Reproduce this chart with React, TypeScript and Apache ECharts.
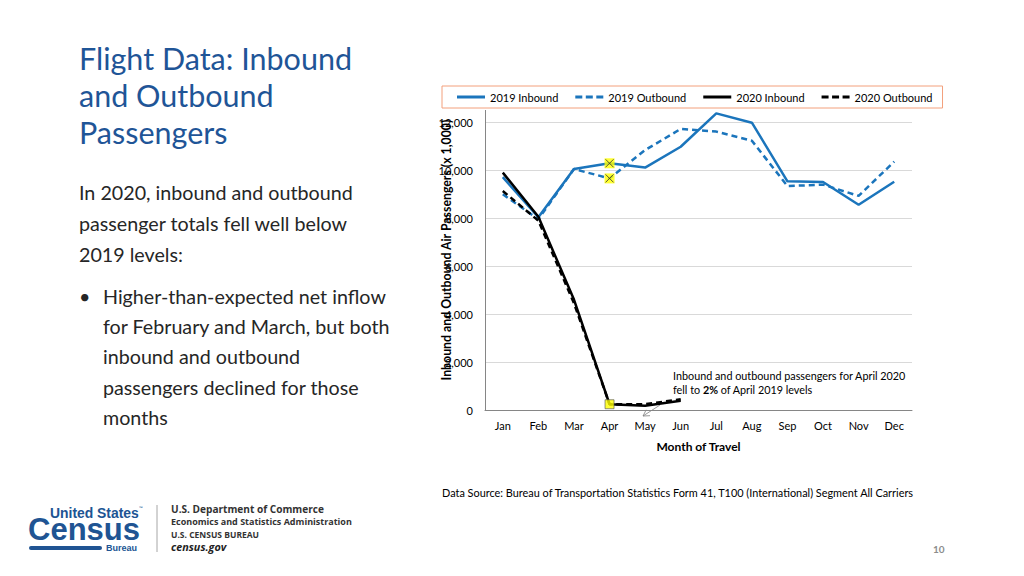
import React, { useEffect, useRef } from "react";
import * as echarts from "echarts";

const months = ["Jan", "Feb", "Mar", "Apr", "May", "Jun", "Jul", "Aug", "Sep", "Oct", "Nov", "Dec"];
const inbound2019 = [9700, 8030, 10040, 10280, 10100, 10970, 12360, 11970, 9530, 9500, 8550, 9510];
const outbound2019 = [8990, 7950, 10040, 9650, 10830, 11710, 11600, 11220, 9330, 9390, 8920, 10350];
const inbound2020 = [9890, 8050, 4600, 240, 180, 390];
const outbound2020 = [9125, 7890, 4450, 240, 240, 445];
const seriesNames = ["2019 Inbound", "2019 Outbound", "2020 Inbound", "2020 Outbound"];
const yTitle = "Inbound and Outbound Air Passengers (x 1,000)";

const FONT = "Lato, 'Open Sans', sans-serif";
const LOGOFONT = "'Liberation Sans Narrow', 'Liberation Sans', sans-serif";
const BLUE = "#1B75BC";
const CENSUS = "#205493";

const SOLID_ICON = "path://M0,0 L28,0 L28,3 L0,3 Z";
const DASH_ICON = "path://M0,0 L7,0 L7,3 L0,3 Z M10.5,0 L17.5,0 L17.5,3 L10.5,3 Z M21,0 L28,0 L28,3 L21,3 Z";

export default function App() {
  const ref = useRef<HTMLDivElement>(null);
  useEffect(() => {
    if (!ref.current) return;
    const chart = echarts.init(ref.current, null, { renderer: "svg" });
    const xPath = "path://M0,0 L10,10 M10,0 L0,10";
    chart.setOption({
      animation: false,
      backgroundColor: "#fff",
      textStyle: { fontFamily: FONT },
      grid: { left: 485, right: 112, top: 122, bottom: 166 },
      legend: {
        data: [
          { name: seriesNames[0], icon: SOLID_ICON },
          { name: seriesNames[1], icon: DASH_ICON },
          { name: seriesNames[2], icon: SOLID_ICON },
          { name: seriesNames[3], icon: DASH_ICON },
        ],
        left: 442,
        top: 86,
        padding: [5, 10, 5, 15],
        borderColor: "#F3A07C",
        borderWidth: 1,
        itemWidth: 28,
        itemHeight: 3,
        itemGap: 17,
        textStyle: { fontSize: 11, color: "#000", fontFamily: FONT, lineHeight: 12 },
      },
      xAxis: {
        type: "category",
        data: months,
        boundaryGap: true,
        axisLine: { lineStyle: { color: "#868686", width: 1 } },
        axisTick: { show: false },
        axisLabel: { fontSize: 11, color: "#000", margin: 10, fontFamily: FONT },
        name: "Month of Travel",
        nameLocation: "middle",
        nameGap: 30,
        nameTextStyle: { fontSize: 12, fontWeight: "bold", color: "#000", fontFamily: FONT },
      },
      yAxis: {
        type: "value",
        min: 0,
        max: 12000,
        interval: 2000,
        axisLine: { show: true, lineStyle: { color: "#868686", width: 1 } },
        axisTick: { show: false },
        splitLine: { lineStyle: { color: "#D9D9D9", width: 1 } },
        axisLabel: {
          fontSize: 11,
          color: "#000",
          margin: 12,
          fontFamily: FONT,
          formatter: (v: number) => v.toLocaleString("en-US"),
        },
      },
      series: [
        {
          name: seriesNames[0],
          type: "line",
          data: inbound2019,
          symbol: "none",
          clip: false,
          itemStyle: { color: BLUE },
          lineStyle: { color: BLUE, width: 2.5 },
          z: 3,
        },
        {
          name: seriesNames[1],
          type: "line",
          data: outbound2019,
          symbol: "none",
          clip: false,
          itemStyle: { color: BLUE },
          lineStyle: { color: BLUE, width: 2.5, type: [6, 4] },
          z: 3,
        },
        {
          name: seriesNames[2],
          type: "line",
          data: inbound2020,
          symbol: "none",
          clip: false,
          itemStyle: { color: "#000" },
          lineStyle: { color: "#000", width: 2.5 },
          z: 4,
        },
        {
          name: seriesNames[3],
          type: "line",
          data: outbound2020,
          symbol: "none",
          clip: false,
          itemStyle: { color: "#000" },
          lineStyle: { color: "#000", width: 2.5, type: [6, 4] },
          z: 4,
        },
        {
          name: "marker2020",
          type: "scatter",
          data: [[3, inbound2020[3]]],
          symbol: "rect",
          symbolSize: 9,
          itemStyle: { color: "#FFFF00", borderColor: "#555", borderWidth: 0.8 },
          z: 6,
        },
        {
          name: "marker2019",
          type: "scatter",
          data: [[3, inbound2019[3]], [3, outbound2019[3]]],
          symbol: "rect",
          symbolSize: 10,
          itemStyle: { color: "#FFFF00", borderWidth: 0 },
          z: 6,
        },
        {
          name: "marker2019x",
          type: "scatter",
          data: [[3, inbound2019[3]], [3, outbound2019[3]]],
          symbol: xPath,
          symbolSize: 8,
          itemStyle: { color: "none", borderColor: "#333", borderWidth: 1 },
          z: 7,
        },
      ],
      graphic: [
        { type: "line", shape: { x1: 485.5, y1: 110, x2: 485.5, y2: 122 }, style: { stroke: "#868686", lineWidth: 1 } },
        {
          type: "text",
          x: 446,
          y: 250,
          rotation: Math.PI / 2,
          z: 10,
          style: {
            text: yTitle,
            fontSize: 12.3,
            fontWeight: "bold",
            fill: "#000",
            fontFamily: FONT,
            align: "center",
            verticalAlign: "middle",
          },
        },
        {
          type: "text",
          left: 79,
          top: 39,
          style: {
            text: "Flight Data: Inbound\nand Outbound\nPassengers",
            fontSize: 30.5,
            lineHeight: 37,
            fill: "#1F5597",
            fontFamily: FONT,
          },
        },
        {
          type: "text",
          left: 79,
          top: 177,
          style: {
            text: "In 2020, inbound and outbound\npassenger totals fell well below\n2019 levels:",
            fontSize: 19.7,
            lineHeight: 31,
            fill: "#262626",
            fontFamily: FONT,
          },
        },
        {
          type: "text",
          left: 79,
          top: 281,
          style: { text: "•", fontSize: 19.7, lineHeight: 30.3, fill: "#262626", fontFamily: FONT },
        },
        {
          type: "text",
          left: 103,
          top: 281,
          style: {
            text: "Higher-than-expected net inflow\nfor February and March, but both\ninbound and outbound\npassengers declined for those\nmonths",
            fontSize: 19.7,
            lineHeight: 30.3,
            fill: "#262626",
            fontFamily: FONT,
          },
        },
        {
          type: "text",
          left: 673,
          top: 368,
          style: {
            text: "Inbound and outbound passengers for April 2020\n{n|fell to }{b|2%}{n| of April 2019 levels}",
            fontSize: 10.8,
            lineHeight: 14,
            fill: "#000",
            fontFamily: FONT,
            rich: {
              n: { fontSize: 10.8, fill: "#000", fontFamily: FONT, lineHeight: 14 },
              b: { fontSize: 10.8, fill: "#000", fontWeight: "bold", fontFamily: FONT, lineHeight: 14 },
            },
          },
        },
        { type: "line", shape: { x1: 660, y1: 405, x2: 643, y2: 416 }, style: { stroke: "#7F7F7F", lineWidth: 0.8 } },
        {
          type: "polyline",
          shape: { points: [[650, 415.7], [643, 416], [646.2, 409.8]] },
          style: { stroke: "#7F7F7F", lineWidth: 0.8, fill: "none" },
        },
        {
          type: "text",
          left: 442,
          top: 487,
          style: {
            text: "Data Source: Bureau of Transportation Statistics Form 41, T100 (International) Segment All Carriers",
            fontSize: 10.9,
            fill: "#000",
            fontFamily: FONT,
          },
        },
        {
          type: "text",
          left: 933,
          top: 544,
          style: { text: "10", fontSize: 10, fill: "#8C8C8C", fontFamily: FONT, fontWeight: "bold" },
        },
        // Census logo
        {
          type: "text",
          left: 50,
          top: 506,
          style: { text: "United States", fontSize: 13.9, lineHeight: 11, fontWeight: "bold", fill: CENSUS, fontFamily: LOGOFONT },
        },
        {
          type: "text",
          left: 139,
          top: 505,
          style: { text: "™", fontSize: 5, fill: CENSUS, fontFamily: FONT },
        },
        {
          type: "text",
          left: 28,
          top: 513.5,
          style: { text: "Census", fontSize: 31, lineHeight: 22, fontWeight: "bold", fill: CENSUS, fontFamily: LOGOFONT },
        },
        { type: "rect", shape: { x: 29, y: 546, width: 73, height: 4, r: 2 }, style: { fill: CENSUS } },
        {
          type: "text",
          left: 106,
          top: 543,
          style: { text: "Bureau", fontSize: 9, fontWeight: "bold", fill: CENSUS, fontFamily: LOGOFONT },
        },
        { type: "line", shape: { x1: 157, y1: 505, x2: 157, y2: 552 }, style: { stroke: "#A6A6A6", lineWidth: 1 } },
        {
          type: "text",
          left: 171,
          top: 504,
          style: { text: "U.S. Department of Commerce", fontSize: 10.1, fontWeight: "bold", fill: "#333", fontFamily: "'Open Sans', sans-serif" },
        },
        {
          type: "text",
          left: 171,
          top: 517,
          style: { text: "Economics and Statistics Administration", fontSize: 9, fontWeight: "bold", fill: "#333", fontFamily: "'Open Sans', sans-serif" },
        },
        {
          type: "text",
          left: 171,
          top: 530,
          style: { text: "U.S. CENSUS BUREAU", fontSize: 8.5, fontWeight: "bold", fill: "#333", fontFamily: "'Open Sans', sans-serif" },
        },
        {
          type: "text",
          left: 171,
          top: 541,
          style: { text: "census.gov", fontSize: 10.8, fontWeight: "bold", fontStyle: "italic", fill: "#222", fontFamily: "'Open Sans', sans-serif" },
        },
      ],
    });
    return () => chart.dispose();
  }, []);
  return (
    <div
      ref={ref}
      style={{ position: "fixed", left: 0, top: 0, width: 1024, height: 576, background: "#fff" }}
    />
  );
}
